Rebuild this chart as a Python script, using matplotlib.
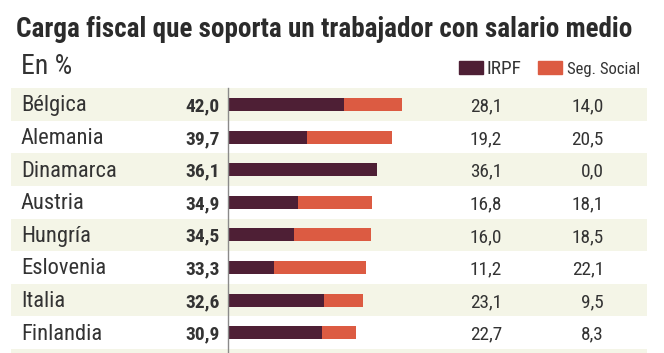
import matplotlib
matplotlib.use("Agg")
import matplotlib.pyplot as plt
from matplotlib import font_manager as fm

countries = ["Bélgica", "Alemania", "Dinamarca", "Austria", "Hungría", "Eslovenia", "Italia", "Finlandia"]
totals = [42.0, 39.7, 36.1, 34.9, 34.5, 33.3, 32.6, 30.9]
irpf = [28.1, 19.2, 36.1, 16.8, 16.0, 11.2, 23.1, 22.7]
seg_social = [14.0, 20.5, 0.0, 18.1, 18.5, 22.1, 9.5, 8.3]
title = "Carga fiscal que soporta un trabajador con salario medio"
subtitle = "En %"
legend_labels = ["IRPF", "Seg. Social"]

names = {f.name for f in fm.fontManager.ttflist}
FONT = "DejaVu Sans"
for cand in ["Roboto Condensed", "Archivo Narrow", "Barlow Semi Condensed", "Fira Sans Condensed"]:
    if cand in names:
        FONT = cand
        break
plt.rcParams["font.family"] = [FONT, "DejaVu Sans"]

C_IRPF = "#4e1f35"
C_SS = "#dc5b42"
C_BAND = "#f4f5e7"
C_TEXT = "#333333"

W, H = 664, 353
fig = plt.figure(figsize=(W / 100, H / 100), dpi=100)
ax = fig.add_axes([0, 0, 1, 1])
ax.set_axis_off()
renderer = fig.canvas.get_renderer()

def fit(t, target):
    w = t.get_window_extent(renderer=renderer).width
    t.set_fontsize(t.get_fontsize() * target / w)
    return t.get_fontsize()

def fmt(v):
    return f"{v:.1f}".replace(".", ",")

x0px = 228.0
pxu = 4.14
ax.set_xlim(-x0px / pxu, (W - x0px) / pxu)
row0, rowh = 104.5, 32.6
ax.set_ylim((H - row0) / rowh, -row0 / rowh)

def px(xp):
    return (xp - x0px) / pxu

# bands
for i in range(0, 9, 2):
    ax.fill_between([px(11), px(647)], i - 0.5, i + 0.5, color=C_BAND, lw=0, zorder=0)

ys = list(range(len(countries)))
ax.barh(ys, irpf, height=0.4, color=C_IRPF, zorder=2)
ax.barh(ys, seg_social, left=irpf, height=0.4, color=C_SS, zorder=2)
ax.plot([0, 0], [-0.5, 8], color="#8a8a8a", lw=1, zorder=3)

# font sizes fitted to widths measured on the reference
probe = ax.text(0, 0, "Dinamarca", fontsize=12)
fs_name = fit(probe, 95); probe.remove()
probe = ax.text(0, 0, "42,0", fontsize=12, fontweight="bold")
fs_tot = fit(probe, 34); probe.remove()
probe = ax.text(0, 0, "28,1", fontsize=12)
fs_num = fit(probe, 32); probe.remove()

base = 7.0 / rowh
for i, c in enumerate(countries):
    yb = i + base
    ax.text(px(21), yb, c, ha="left", va="baseline", fontsize=fs_name, color=C_TEXT)
    ax.text(px(220), yb, fmt(totals[i]), ha="right", va="baseline",
            fontsize=fs_tot, fontweight="bold", color=C_TEXT)
    ax.text(px(502), yb, fmt(irpf[i]), ha="right", va="baseline", fontsize=fs_num, color=C_TEXT)
    ax.text(px(604), yb, fmt(seg_social[i]), ha="right", va="baseline", fontsize=fs_num, color=C_TEXT)

t = fig.text(16 / W, 1 - 37 / H, title, ha="left", va="baseline", fontsize=17,
             fontweight="bold", color="#2b2b2b")
fit(t, 617)
t = fig.text(21 / W, 1 - 74 / H, subtitle, ha="left", va="baseline", fontsize=13, color=C_TEXT)
fit(t, 51)

# legend
for (x_sq, x_txt, label, col, tw) in [(459, 487, legend_labels[0], C_IRPF, 35),
                                      (538, 567, legend_labels[1], C_SS, 73)]:
    fig.patches.append(plt.Rectangle((x_sq / W, 1 - 74 / H), 24 / W, 13 / H, color=col,
                                     transform=fig.transFigure, figure=fig))
    t = fig.text(x_txt / W, 1 - 74 / H, label, ha="left", va="baseline", fontsize=10, color=C_TEXT)
    fit(t, tw)

fig.savefig("out.png", dpi=100)
